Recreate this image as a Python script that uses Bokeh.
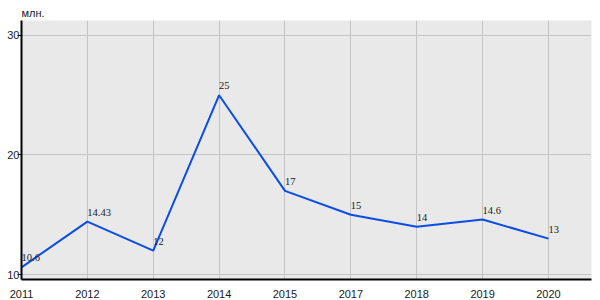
from bokeh.plotting import figure
from bokeh.models import Range1d, FixedTicker, ColumnDataSource, LabelSet, Title
from bokeh.embed import file_html
from bokeh.resources import INLINE

years = ["2011", "2012", "2013", "2014", "2015", "2017", "2018", "2019", "2020"]
values = [10.6, 14.43, 12, 25, 17, 15, 14, 14.6, 13]
labels = ["10.6", "14.43", "12", "25", "17", "15", "14", "14.6", "13"]
y_ticks = [10, 20, 30]

xs = list(range(len(years)))
src = ColumnDataSource(dict(x=xs, y=values, lab=labels))

p = figure(width=600, height=300, output_backend="svg", toolbar_location=None,
           x_range=Range1d(0, 8.653), y_range=Range1d(9.583, 31.25),
           min_border_left=21, min_border_right=9, min_border_top=20, min_border_bottom=20)
p.background_fill_color = "#e9e9e9"
p.border_fill_color = "white"
p.outline_line_color = None

p.line("x", "y", source=src, line_color="#0a4de6", line_width=2)

ls = LabelSet(x="x", y="y", text="lab", source=src, x_offset=0, y_offset=6,
              text_font="Liberation Sans", text_font_size="10.5px",
              text_color="#1a1a1a", text_baseline="bottom", text_align="left")
p.add_layout(ls)

p.xaxis.ticker = FixedTicker(ticks=xs)
p.xaxis.major_label_overrides = {i: y for i, y in enumerate(years)}
p.xaxis.major_tick_line_color = None
p.xaxis.minor_tick_line_color = None
p.xaxis.axis_line_color = "black"
p.xaxis.axis_line_width = 2
p.xaxis.major_label_text_font = "Liberation Sans"
p.xaxis.major_label_text_font_size = "11px"
p.xaxis.major_label_text_color = "#1a1a1a"
p.xaxis.major_label_standoff = 4
p.xaxis.major_label_text_align = "left"

p.yaxis.ticker = FixedTicker(ticks=y_ticks)
p.yaxis.major_tick_out = 4
p.yaxis.major_tick_in = 0
p.yaxis.minor_tick_line_color = None
p.yaxis.axis_line_color = "black"
p.yaxis.axis_line_width = 2
p.yaxis.major_label_text_font = "Liberation Sans"
p.yaxis.major_label_text_font_size = "11px"
p.yaxis.major_label_text_color = "#1a1a1a"
p.yaxis.major_label_standoff = -2
p.yaxis.major_label_text_baseline = "bottom"

p.xgrid.ticker = FixedTicker(ticks=xs)
p.xgrid.grid_line_color = "#c4c4c4"
p.ygrid.grid_line_color = "#c4c4c4"
p.xgrid.grid_line_width = 1
p.ygrid.grid_line_width = 1

p.add_layout(Title(text="млн.", text_font="Liberation Sans", text_font_size="11px",
                   text_font_style="normal", text_color="#1a1a1a", offset=0,
                   standoff=3), "above")

open("out.html", "w").write(file_html(p, INLINE))
